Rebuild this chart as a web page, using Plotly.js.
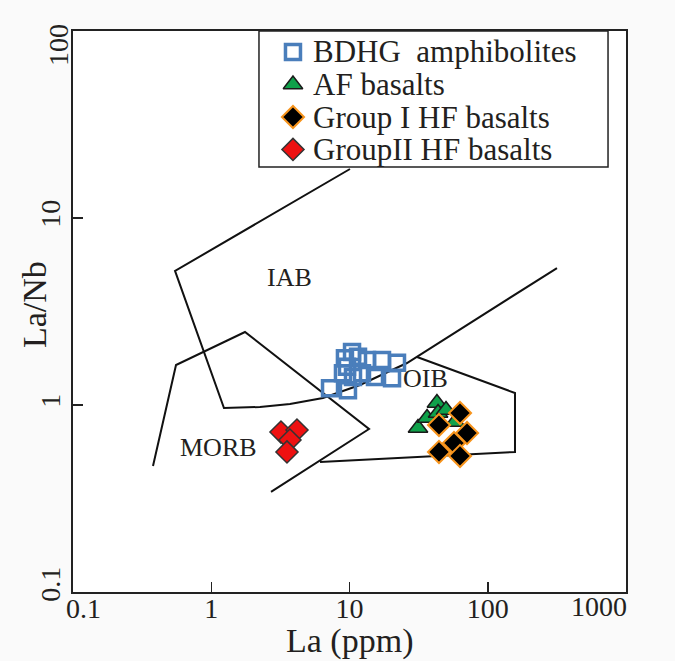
<!DOCTYPE html>
<html>
<head>
<meta charset="utf-8">
<script src="https://cdn.plot.ly/plotly-3.0.1.min.js"></script>
<style>html,body{margin:0;padding:0;background:#fafafa;}</style>
</head>
<body>
<div id="chart" style="width:675px;height:661px;"></div>
<script>
// Data (La ppm, La/Nb)
const bdhgLa   = [7.23, 9.75, 10.43, 9.27, 11.52, 9.59, 13.39, 17.18, 22.06, 12.31, 15.29, 20.3, 8.97, 10.6];
const bdhgLaNb = [1.23, 1.20, 1.92, 1.78, 1.81, 1.60, 1.74, 1.74, 1.68, 1.48, 1.41, 1.39, 1.48, 1.41];
const afLa     = [31.3, 36.4, 42.9, 43.7, 49.9, 58.0];
const afLaNb   = [0.753, 0.852, 1.025, 0.906, 0.940, 0.811];
const g1La     = [63.0, 44.4, 70.8, 57.0, 44.4, 63.0];
const g1LaNb   = [0.906, 0.782, 0.708, 0.626, 0.561, 0.534];
const g2La     = [3.195, 4.17, 3.71, 3.53];
const g2LaNb   = [0.717, 0.735, 0.650, 0.561];

// Field boundaries
const iabX  = [10.08, 0.547, 1.236, 2.25, 3.71, 6.43, 11.9, 26.06, 316.8];
const iabY  = [18.28, 5.21, 0.964, 0.976, 1.012, 1.090, 1.279, 1.677, 5.40];
const morbX = [0.379, 0.556, 1.754, 13.84, 2.706];
const morbY = [0.472, 1.636, 2.457, 0.744, 0.343];
const oibX  = [30.8, 157.4, 157.4, 6.12];
const oibY  = [1.806, 1.159, 0.561, 0.496];

const fieldNames = ['IAB', 'MORB', 'OIB'];
const fieldLabelX = [3.71, 1.119, 35.2];
const fieldLabelY = [4.78, 0.596, 1.394];

const legendNames = ['BDHG  amphibolites', 'AF basalts', 'Group I HF basalts', 'GroupII HF basalts'];

const xTickVals = [0.1, 1, 10, 100, 1000];
const xTickText = ['\u00a0\u00a0\u00a00.1', '1', '10', '100', ''];
const xEndLabel = '1000';
const yTickVals = [0.1, 1, 10, 100];
const yTickText = ['\u00a00.1', '1', '10', ''];
const yEndLabel = '100';
const xTitle = 'La (ppm)';
const yTitle = 'La/Nb';

const serif = 'Liberation Serif, Times New Roman, serif';
const txt = '#231f20';

const blueMk  = {symbol: 'square', size: 15, color: 'rgba(255,255,255,0)', line: {color: '#4a7ebb', width: 3.5}};
const greenMk = {symbol: 'triangle-up', size: 17, color: '#0fa14a', line: {color: '#1a1a1a', width: 1.5}};
const g1Mk    = {symbol: 'diamond', size: 17, color: '#000000', line: {color: '#f7941d', width: 2}};
const g2Mk    = {symbol: 'diamond', size: 17, color: '#ee1111', line: {color: '#333', width: 1.5}};

function boundary(x, y) {
  return {x: x, y: y, type: 'scatter', mode: 'lines', showlegend: false,
          hoverinfo: 'skip', line: {color: '#111', width: 2}};
}

// legend layout (paper fractions of plot area)
const legX0 = 0.3363, legX1 = 0.9675, legY0 = 0.7576, legY1 = 1.0;
const legMkX = 0.3978, legTxtX = 0.4322;
const legRowY = [0.9626, 0.9046, 0.8467, 0.7888];

const traces = [
  boundary(iabX, iabY),
  boundary(morbX, morbY),
  boundary(oibX, oibY),
  {x: bdhgLa, y: bdhgLaNb, type: 'scatter', mode: 'markers', name: legendNames[0], marker: blueMk},
  {x: afLa, y: afLaNb, type: 'scatter', mode: 'markers', name: legendNames[1], marker: greenMk},
  {x: g1La, y: g1LaNb, type: 'scatter', mode: 'markers', name: legendNames[2], marker: g1Mk},
  {x: g2La, y: g2LaNb, type: 'scatter', mode: 'markers', name: legendNames[3], marker: g2Mk}
];
// legend glyphs on a hidden overlay axis
[blueMk, greenMk, g1Mk, g2Mk].forEach((mk, i) => {
  traces.push({x: [legMkX], y: [legRowY[i]], xaxis: 'x2', yaxis: 'y2', type: 'scatter',
               mode: 'markers', showlegend: false, hoverinfo: 'skip', marker: mk});
});

const annotations = fieldNames.map((t, i) => ({
  x: Math.log10(fieldLabelX[i]), y: Math.log10(fieldLabelY[i]), xref: 'x', yref: 'y',
  text: t, showarrow: false, font: {family: serif, size: 26, color: txt}
}));
legendNames.forEach((t, i) => {
  annotations.push({x: legTxtX, y: legRowY[i], xref: 'paper', yref: 'paper', xanchor: 'left',
    yanchor: 'middle', text: t.replace(/ /g, '\u00a0'), showarrow: false, borderpad: 0,
    font: {family: serif, size: 31, color: txt}});
});
// axis titles
annotations.push({x: 0.5, y: -0.088, xref: 'paper', yref: 'paper', xanchor: 'center', yanchor: 'middle',
  text: xTitle, showarrow: false, borderpad: 0, font: {family: serif, size: 34, color: txt}});
annotations.push({x: -0.0687, y: 0.5116, xref: 'paper', yref: 'paper', xanchor: 'center', yanchor: 'middle',
  text: yTitle, textangle: -90, showarrow: false, font: {family: serif, size: 34, color: txt}});
// end tick labels, pulled inward as in the original
annotations.push({x: 0.951, y: -0.0267, xref: 'paper', yref: 'paper', xanchor: 'center', yanchor: 'middle',
  text: xEndLabel, showarrow: false, borderpad: 0, font: {family: serif, size: 28, color: txt}});
annotations.push({x: -0.0271, y: 0.975, xref: 'paper', yref: 'paper', xanchor: 'center', yanchor: 'middle',
  text: yEndLabel, textangle: -90, showarrow: false, borderpad: 0, font: {family: serif, size: 28, color: txt}});

const layout = {
  width: 675, height: 661,
  margin: {l: 73, r: 49, t: 31, b: 69},
  paper_bgcolor: '#fafafa',
  plot_bgcolor: '#ffffff',
  showlegend: false,
  shapes: [{type: 'rect', xref: 'paper', yref: 'paper', x0: legX0, x1: legX1, y0: legY0, y1: legY1,
            fillcolor: '#ffffff', line: {color: '#222', width: 1.5}, layer: 'below'}],
  xaxis: {type: 'log', range: [-1, 3], tickvals: xTickVals, ticktext: xTickText,
          ticks: 'inside', ticklen: 10, tickwidth: 1.5, tickcolor: '#222',
          showline: true, linecolor: '#222', linewidth: 2, mirror: true,
          showgrid: false, zeroline: false, ticklabelstandoff: -10, ticklabeloverflow: 'allow',
          tickfont: {family: serif, size: 28, color: txt}},
  yaxis: {type: 'log', range: [-1, 2], tickvals: yTickVals, ticktext: yTickText, tickangle: -90,
          ticks: 'inside', ticklen: 10, tickwidth: 1.5, tickcolor: '#222',
          showline: true, linecolor: '#222', linewidth: 2, mirror: true,
          showgrid: false, zeroline: false, ticklabeloverflow: 'allow',
          tickfont: {family: serif, size: 28, color: txt}},
  xaxis2: {overlaying: 'x', range: [0, 1], visible: false, fixedrange: true},
  yaxis2: {overlaying: 'y', range: [0, 1], visible: false, fixedrange: true},
  annotations: annotations
};

Plotly.newPlot('chart', traces, layout, {displayModeBar: false, staticPlot: true});
</script>
</body>
</html>
